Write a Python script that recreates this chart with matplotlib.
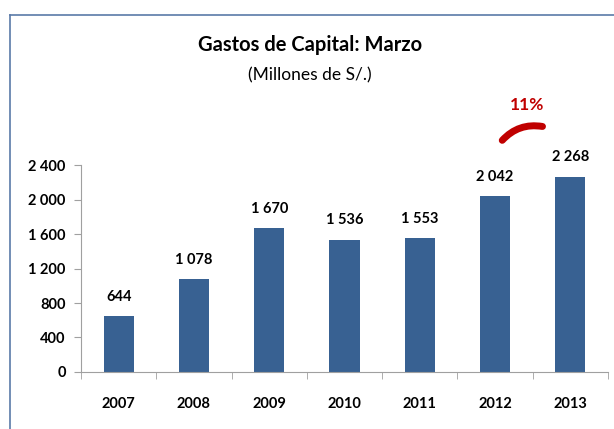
import numpy as np
import matplotlib.pyplot as plt
from matplotlib.patches import FancyArrowPatch
from matplotlib.lines import Line2D

plt.rcParams['font.family'] = ['Liberation Sans Narrow', 'Lato', 'DejaVu Sans']

years  = ['2007', '2008', '2009', '2010', '2011', '2012', '2013']
values = [644, 1078, 1670, 1536, 1553, 2042, 2268]
yticks = [0, 400, 800, 1200, 1600, 2000, 2400]

def fmt(v):
    return f"{v:,}".replace(",", " ")

fig = plt.figure(figsize=(6.14, 4.29), dpi=100)
ax = fig.add_axes([0.132, 0.133, 0.858, 0.482])

x = np.arange(len(years))
bars = ax.bar(x, values, width=0.4, color='#386192', zorder=2, clip_on=False)

for xi, v in zip(x, values):
    ax.annotate(fmt(v), (xi, v), xytext=(0, 9), textcoords='offset points',
                ha='center', va='bottom', fontsize=10.5, fontweight='bold',
                annotation_clip=False)

ax.set_xlim(-0.5, len(years) - 0.5)
ax.set_ylim(0, 2400)
ax.set_yticks(yticks)
ax.set_yticklabels([fmt(t) for t in yticks], fontsize=10.5, fontweight='bold')
ax.set_xticks(x)
ax.set_xticklabels(years, fontsize=10.5, fontweight='bold')
ax.set_xticks(np.arange(len(years) + 1) - 0.5, minor=True)
ax.tick_params(axis='x', which='major', length=0, pad=18)
ax.tick_params(axis='x', which='minor', length=5, color='#A0A0A0')
ax.tick_params(axis='y', length=5, color='#A0A0A0', pad=6)

for s in ['top', 'right']:
    ax.spines[s].set_visible(False)
for s in ['left', 'bottom']:
    ax.spines[s].set_color('#A0A0A0')

# title
fig.text(0.505, 0.895, 'Gastos de Capital: Marzo', ha='center', va='center',
         fontsize=14.5, fontweight='bold')
fig.text(0.505, 0.825, '(Millones de S/.)', ha='center', va='center', fontsize=12.5)

# growth annotation
fig.text(0.858, 0.755, '11%', ha='center', va='center', fontsize=12.5,
         fontweight='bold', color='#C00000')
arc = FancyArrowPatch((0.815, 0.668), (0.888, 0.704), transform=fig.transFigure,
                      arrowstyle='-', connectionstyle='arc3,rad=-0.3',
                      color='#C00000', linewidth=5, capstyle='round')
fig.patches.append(arc)

# outer frame
fig.add_artist(Line2D([0.016, 0.016], [0.0, 0.965], transform=fig.transFigure,
                      color='#5A7AA8', linewidth=1.2))
fig.add_artist(Line2D([0.016, 1.0], [0.965, 0.965], transform=fig.transFigure,
                      color='#5A7AA8', linewidth=1.2))

fig.savefig('out.png', dpi=100)
